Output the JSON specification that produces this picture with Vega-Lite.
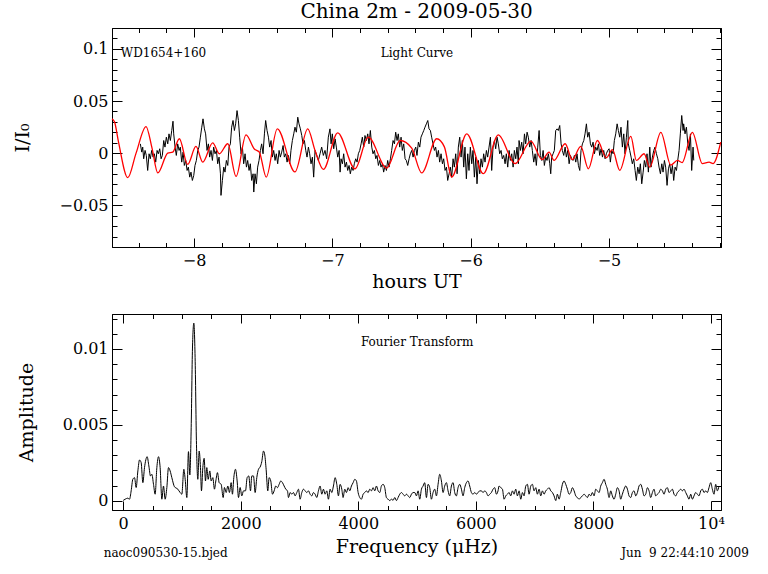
{
"$schema": "https://vega.github.io/schema/vega-lite/v6.json",
"background": "white",
"padding": {"left": 13, "top": 1, "right": 4, "bottom": 4},
"config": {
  "view": {"stroke": "black", "strokeWidth": 1},
  "axis": {"domainColor": "black", "domainWidth": 1, "tickColor": "black", "tickWidth": 1, "labelColor": "black", "titleColor": "black", "labelFont": "DejaVu Serif", "titleFont": "DejaVu Serif", "labelFontSize": 16, "titleFontSize": 19, "titleFontWeight": "normal", "grid": false, "labelOverlap": false, "labelBound": false, "labelFlush": false},
  "text": {"font": "DejaVu Serif", "fontSize": 12, "color": "black"},
  "title": {"font": "DejaVu Serif", "fontSize": 20, "fontWeight": "normal", "color": "black"}
},
"datasets": {
  "lc": [
{"h":-8.388,"f":0.0089},{"h":-8.378,"f":0.0010},{"h":-8.371,"f":0.0058},{"h":-8.364,"f":-0.0054},{"h":-8.354,"f":0.0026},{"h":-8.345,"f":-0.0022},{"h":-8.335,"f":-0.0166},{"h":-8.325,"f":-0.0006},{"h":-8.316,"f":-0.0054},{"h":-8.306,"f":0.0026},{"h":-8.296,"f":-0.0038},{"h":-8.287,"f":-0.0006},{"h":-8.277,"f":-0.0086},{"h":-8.267,"f":0.0026},{"h":-8.258,"f":-0.0006},{"h":-8.248,"f":0.0042},{"h":-8.238,"f":-0.0054},{"h":-8.229,"f":-0.0022},{"h":-8.219,"f":0.0121},{"h":-8.210,"f":0.0058},{"h":-8.200,"f":0.0153},{"h":-8.190,"f":0.0089},{"h":-8.181,"f":0.0185},{"h":-8.171,"f":0.0121},{"h":-8.161,"f":0.0217},{"h":-8.152,"f":0.0306},{"h":-8.147,"f":0.0185},{"h":-8.137,"f":0.0058},{"h":-8.128,"f":-0.0022},{"h":-8.118,"f":0.0089},{"h":-8.108,"f":0.0026},{"h":-8.099,"f":0.0058},{"h":-8.089,"f":-0.0086},{"h":-8.079,"f":0.0010},{"h":-8.070,"f":-0.0118},{"h":-8.060,"f":-0.0070},{"h":-8.050,"f":-0.0166},{"h":-8.041,"f":-0.0134},{"h":-8.031,"f":-0.0230},{"h":-8.022,"f":-0.0182},{"h":-8.012,"f":-0.0262},{"h":-8.002,"f":-0.0214},{"h":-7.993,"f":-0.0118},{"h":-7.983,"f":-0.0070},{"h":-7.973,"f":0.0026},{"h":-7.964,"f":0.0058},{"h":-7.954,"f":0.0153},{"h":-7.944,"f":0.0249},{"h":-7.935,"f":0.0329},{"h":-7.925,"f":0.0233},{"h":-7.916,"f":0.0185},{"h":-7.906,"f":0.0026},{"h":-7.896,"f":0.0089},{"h":-7.887,"f":-0.0038},{"h":-7.877,"f":0.0026},{"h":-7.867,"f":-0.0070},{"h":-7.858,"f":0.0058},{"h":-7.848,"f":-0.0006},{"h":-7.838,"f":0.0026},{"h":-7.829,"f":-0.0102},{"h":-7.819,"f":-0.0038},{"h":-7.809,"f":-0.0198},{"h":-7.805,"f":-0.0405},{"h":-7.795,"f":-0.0262},{"h":-7.785,"f":-0.0134},{"h":-7.776,"f":-0.0182},{"h":-7.766,"f":-0.0070},{"h":-7.756,"f":-0.0118},{"h":-7.747,"f":0.0058},{"h":-7.737,"f":0.0089},{"h":-7.728,"f":0.0249},{"h":-7.718,"f":0.0313},{"h":-7.708,"f":0.0217},{"h":-7.699,"f":0.0281},{"h":-7.689,"f":0.0408},{"h":-7.679,"f":0.0313},{"h":-7.670,"f":0.0153},{"h":-7.660,"f":-0.0006},{"h":-7.650,"f":0.0058},{"h":-7.641,"f":-0.0102},{"h":-7.631,"f":-0.0006},{"h":-7.621,"f":-0.0134},{"h":-7.612,"f":-0.0070},{"h":-7.602,"f":-0.0166},{"h":-7.593,"f":-0.0102},{"h":-7.583,"f":-0.0262},{"h":-7.573,"f":-0.0198},{"h":-7.568,"f":-0.0373},{"h":-7.559,"f":-0.0198},{"h":-7.549,"f":-0.0294},{"h":-7.540,"f":-0.0134},{"h":-7.530,"f":-0.0070},{"h":-7.520,"f":0.0026},{"h":-7.511,"f":0.0089},{"h":-7.501,"f":-0.0006},{"h":-7.491,"f":0.0185},{"h":-7.482,"f":0.0313},{"h":-7.472,"f":0.0217},{"h":-7.462,"f":0.0153},{"h":-7.453,"f":0.0058},{"h":-7.443,"f":0.0121},{"h":-7.434,"f":-0.0038},{"h":-7.424,"f":0.0026},{"h":-7.414,"f":-0.0070},{"h":-7.405,"f":-0.0006},{"h":-7.395,"f":-0.0102},{"h":-7.385,"f":0.0026},{"h":-7.376,"f":-0.0038},{"h":-7.366,"f":0.0010},{"h":-7.356,"f":0.0073},{"h":-7.347,"f":-0.0038},{"h":-7.337,"f":-0.0006},{"h":-7.327,"f":-0.0086},{"h":-7.318,"f":-0.0022},{"h":-7.308,"f":-0.0102},{"h":-7.299,"f":0.0026},{"h":-7.289,"f":0.0121},{"h":-7.279,"f":0.0185},{"h":-7.270,"f":0.0249},{"h":-7.260,"f":0.0201},{"h":-7.250,"f":0.0345},{"h":-7.241,"f":0.0281},{"h":-7.231,"f":0.0233},{"h":-7.221,"f":0.0169},{"h":-7.212,"f":0.0089},{"h":-7.202,"f":0.0121},{"h":-7.192,"f":0.0026},{"h":-7.183,"f":-0.0038},{"h":-7.173,"f":0.0058},{"h":-7.164,"f":-0.0006},{"h":-7.154,"f":-0.0102},{"h":-7.144,"f":-0.0038},{"h":-7.135,"f":-0.0230},
{"h":-7.125,"f":0.0026},{"h":-7.113,"f":-0.0022},{"h":-7.101,"f":-0.0070},{"h":-7.089,"f":-0.0006},{"h":-7.077,"f":0.0058},{"h":-7.065,"f":-0.0022},{"h":-7.053,"f":0.0026},{"h":-7.041,"f":-0.0054},{"h":-7.029,"f":0.0153},{"h":-7.017,"f":0.0233},{"h":-7.009,"f":0.0089},{"h":-7.000,"f":0.0185},{"h":-6.990,"f":0.0042},{"h":-6.980,"f":0.0137},{"h":-6.971,"f":0.0058},{"h":-6.961,"f":-0.0038},{"h":-6.951,"f":0.0026},{"h":-6.944,"f":-0.0182},{"h":-6.937,"f":-0.0054},{"h":-6.927,"f":-0.0102},{"h":-6.918,"f":-0.0006},{"h":-6.908,"f":-0.0134},{"h":-6.898,"f":-0.0086},{"h":-6.889,"f":-0.0166},{"h":-6.879,"f":-0.0118},{"h":-6.870,"f":-0.0198},{"h":-6.860,"f":-0.0134},{"h":-6.850,"f":-0.0166},{"h":-6.841,"f":-0.0102},{"h":-6.831,"f":-0.0054},{"h":-6.821,"f":-0.0086},{"h":-6.812,"f":-0.0006},{"h":-6.802,"f":0.0026},{"h":-6.792,"f":0.0089},{"h":-6.783,"f":0.0153},{"h":-6.773,"f":0.0058},{"h":-6.764,"f":0.0169},{"h":-6.754,"f":0.0121},{"h":-6.744,"f":0.0185},{"h":-6.735,"f":0.0089},{"h":-6.725,"f":0.0217},{"h":-6.715,"f":0.0058},{"h":-6.706,"f":-0.0006},{"h":-6.696,"f":0.0026},{"h":-6.686,"f":-0.0054},{"h":-6.677,"f":-0.0022},{"h":-6.667,"f":-0.0118},{"h":-6.657,"f":-0.0070},{"h":-6.648,"f":-0.0134},{"h":-6.638,"f":-0.0102},{"h":-6.629,"f":-0.0182},{"h":-6.619,"f":-0.0118},{"h":-6.609,"f":-0.0166},{"h":-6.600,"f":-0.0070},{"h":-6.590,"f":-0.0134},{"h":-6.580,"f":-0.0054},{"h":-6.571,"f":0.0026},{"h":-6.561,"f":0.0121},{"h":-6.551,"f":0.0089},{"h":-6.542,"f":0.0201},{"h":-6.532,"f":0.0121},{"h":-6.523,"f":0.0185},{"h":-6.513,"f":0.0058},{"h":-6.503,"f":0.0153},{"h":-6.494,"f":0.0026},{"h":-6.484,"f":0.0089},{"h":-6.474,"f":-0.0054},{"h":-6.465,"f":-0.0070},{"h":-6.455,"f":-0.0118},{"h":-6.445,"f":-0.0054},{"h":-6.436,"f":-0.0006},{"h":-6.426,"f":0.0026},{"h":-6.416,"f":-0.0038},{"h":-6.407,"f":0.0026},{"h":-6.397,"f":0.0058},{"h":-6.388,"f":-0.0022},{"h":-6.378,"f":0.0105},{"h":-6.368,"f":0.0058},{"h":-6.359,"f":0.0153},{"h":-6.349,"f":0.0185},{"h":-6.339,"f":0.0217},{"h":-6.330,"f":0.0249},{"h":-6.320,"f":0.0281},{"h":-6.310,"f":0.0313},{"h":-6.301,"f":0.0233},{"h":-6.291,"f":0.0217},{"h":-6.282,"f":0.0153},{"h":-6.272,"f":0.0089},{"h":-6.262,"f":0.0026},{"h":-6.253,"f":0.0058},{"h":-6.243,"f":-0.0038},{"h":-6.233,"f":0.0026},{"h":-6.224,"f":-0.0086},{"h":-6.214,"f":-0.0006},{"h":-6.204,"f":-0.0102},{"h":-6.195,"f":-0.0054},{"h":-6.185,"f":-0.0166},{"h":-6.175,"f":-0.0134},{"h":-6.166,"f":-0.0262},{"h":-6.156,"f":-0.0198},{"h":-6.147,"f":-0.0134},{"h":-6.137,"f":-0.0230},{"h":-6.127,"f":-0.0054},{"h":-6.118,"f":-0.0134},{"h":-6.108,"f":-0.0006},{"h":-6.098,"f":-0.0198},{"h":-6.089,"f":0.0058},{"h":-6.079,"f":0.0153},{"h":-6.069,"f":-0.0038},{"h":-6.060,"f":0.0121},{"h":-6.050,"f":-0.0134},{"h":-6.041,"f":0.0058},{"h":-6.031,"f":-0.0246},{"h":-6.021,"f":-0.0006},{"h":-6.012,"f":-0.0166},{"h":-6.002,"f":0.0058},{"h":-5.992,"f":-0.0102},{"h":-5.983,"f":0.0026},{"h":-5.973,"f":-0.0230},{"h":-5.963,"f":-0.0038},{"h":-5.954,"f":-0.0294},{"h":-5.944,"f":-0.0070},{"h":-5.934,"f":-0.0198},{"h":-5.925,"f":-0.0054},{"h":-5.915,"f":-0.0134},{"h":-5.906,"f":-0.0006},{"h":-5.896,"f":-0.0086},{"h":-5.886,"f":0.0026},{"h":-5.877,"f":-0.0038},{"h":-5.867,"f":0.0058},{"h":-5.857,"f":0.0153},{"h":-5.848,"f":-0.0166},{"h":-5.838,"f":0.0058},{"h":-5.828,"f":0.0121},{"h":-5.819,"f":0.0042},{"h":-5.809,"f":0.0153},{"h":-5.800,"f":0.0089},{"h":-5.790,"f":-0.0006},{"h":-5.780,"f":0.0026},{"h":-5.771,"f":-0.0054},{"h":-5.761,"f":-0.0022},{"h":-5.751,"f":-0.0102},{"h":-5.742,"f":-0.0006},{"h":-5.732,"f":-0.0134},{"h":-5.722,"f":0.0026},{"h":-5.713,"f":-0.0070},{"h":-5.703,"f":-0.0006},{"h":-5.693,"f":-0.0134},{"h":-5.684,"f":0.0026},{"h":-5.674,"f":-0.0054},{"h":-5.665,"f":0.0058},{"h":-5.655,"f":-0.0102},
{"h":-5.650,"f":0.0121},{"h":-5.640,"f":0.0026},{"h":-5.631,"f":0.0105},{"h":-5.621,"f":-0.0006},{"h":-5.611,"f":0.0185},{"h":-5.602,"f":0.0089},{"h":-5.592,"f":0.0201},{"h":-5.583,"f":0.0153},{"h":-5.573,"f":0.0058},{"h":-5.563,"f":0.0121},{"h":-5.554,"f":0.0026},{"h":-5.544,"f":-0.0086},{"h":-5.534,"f":-0.0006},{"h":-5.525,"f":-0.0118},{"h":-5.515,"f":0.0058},{"h":-5.505,"f":0.0217},{"h":-5.496,"f":-0.0022},{"h":-5.486,"f":-0.0070},{"h":-5.476,"f":0.0026},{"h":-5.467,"f":-0.0118},{"h":-5.457,"f":-0.0038},{"h":-5.448,"f":-0.0070},{"h":-5.438,"f":-0.0006},{"h":-5.428,"f":-0.0102},{"h":-5.421,"f":-0.0198},{"h":-5.414,"f":-0.0038},{"h":-5.404,"f":-0.0006},{"h":-5.395,"f":0.0026},{"h":-5.385,"f":0.0217},{"h":-5.375,"f":0.0233},{"h":-5.366,"f":0.0217},{"h":-5.356,"f":0.0265},{"h":-5.346,"f":0.0089},{"h":-5.337,"f":0.0026},{"h":-5.327,"f":-0.0022},{"h":-5.317,"f":0.0058},{"h":-5.308,"f":-0.0038},{"h":-5.298,"f":0.0026},{"h":-5.288,"f":-0.0102},{"h":-5.279,"f":-0.0022},{"h":-5.269,"f":-0.0054},{"h":-5.260,"f":-0.0070},{"h":-5.250,"f":-0.0022},{"h":-5.240,"f":-0.0086},{"h":-5.231,"f":-0.0006},{"h":-5.221,"f":-0.0118},{"h":-5.211,"f":-0.0166},{"h":-5.202,"f":0.0026},{"h":-5.192,"f":0.0089},{"h":-5.182,"f":0.0121},{"h":-5.173,"f":0.0185},{"h":-5.163,"f":0.0281},{"h":-5.154,"f":0.0153},{"h":-5.144,"f":0.0201},{"h":-5.134,"f":0.0089},{"h":-5.125,"f":0.0058},{"h":-5.115,"f":0.0105},{"h":-5.105,"f":-0.0006},{"h":-5.096,"f":0.0058},{"h":-5.086,"f":0.0026},{"h":-5.076,"f":0.0089},{"h":-5.067,"f":-0.0022},{"h":-5.057,"f":0.0042},{"h":-5.047,"f":-0.0038},{"h":-5.038,"f":0.0026},{"h":-5.028,"f":-0.0054},{"h":-5.019,"f":-0.0006},{"h":-5.009,"f":0.0026},{"h":-4.999,"f":0.0042},{"h":-4.990,"f":-0.0086},{"h":-4.980,"f":0.0026},{"h":-4.970,"f":-0.0006},{"h":-4.961,"f":0.0121},{"h":-4.951,"f":0.0185},{"h":-4.941,"f":0.0281},{"h":-4.932,"f":0.0217},{"h":-4.922,"f":0.0153},{"h":-4.913,"f":0.0249},{"h":-4.903,"f":0.0058},{"h":-4.893,"f":0.0185},{"h":-4.884,"f":-0.0006},{"h":-4.874,"f":0.0153},{"h":-4.864,"f":0.0313},{"h":-4.860,"f":0.0089},{"h":-4.850,"f":0.0026},{"h":-4.840,"f":-0.0038},{"h":-4.831,"f":-0.0102},{"h":-4.821,"f":-0.0054},{"h":-4.811,"f":-0.0166},{"h":-4.802,"f":-0.0262},{"h":-4.792,"f":-0.0134},{"h":-4.782,"f":-0.0198},{"h":-4.773,"f":-0.0102},{"h":-4.763,"f":-0.0294},{"h":-4.753,"f":-0.0182},{"h":-4.744,"f":-0.0070},{"h":-4.734,"f":-0.0134},{"h":-4.725,"f":-0.0006},{"h":-4.715,"f":-0.0182},{"h":-4.705,"f":0.0058},{"h":-4.696,"f":-0.0134},{"h":-4.686,"f":-0.0038},{"h":-4.676,"f":0.0026},{"h":-4.667,"f":0.0058},{"h":-4.657,"f":-0.0006},{"h":-4.647,"f":-0.0054},{"h":-4.638,"f":-0.0134},{"h":-4.628,"f":-0.0198},{"h":-4.618,"f":-0.0102},{"h":-4.609,"f":-0.0182},{"h":-4.599,"f":-0.0070},{"h":-4.590,"f":-0.0134},{"h":-4.580,"f":-0.0309},{"h":-4.570,"f":-0.0150},{"h":-4.561,"f":-0.0102},{"h":-4.551,"f":-0.0198},{"h":-4.541,"f":-0.0118},{"h":-4.532,"f":-0.0262},{"h":-4.522,"f":-0.0134},{"h":-4.512,"f":-0.0166},{"h":-4.503,"f":-0.0070},{"h":-4.493,"f":0.0026},{"h":-4.484,"f":0.0185},{"h":-4.474,"f":0.0361},{"h":-4.464,"f":0.0217},{"h":-4.460,"f":0.0281},{"h":-4.450,"f":0.0185},{"h":-4.440,"f":0.0249},{"h":-4.430,"f":0.0089},{"h":-4.421,"f":0.0026},{"h":-4.411,"f":0.0185},{"h":-4.402,"f":-0.0166},{"h":-4.392,"f":0.0058},{"h":-4.387,"f":-0.0070}
  ],
  "fit": [
{"h":-8.593,"f":0.033},{"h":-8.575,"f":0.030},{"h":-8.545,"f":0.010},{"h":-8.479,"f":-0.0235},{"h":-8.419,"f":0.0},{"h":-8.347,"f":0.0255},{"h":-8.304,"f":0.005},{"h":-8.262,"f":-0.019},{"h":-8.190,"f":0.0},{"h":-8.154,"f":0.001},{"h":-8.106,"f":0.0138},{"h":-8.046,"f":-0.0108},{"h":-7.986,"f":0.0064},{"h":-7.937,"f":-0.0086},{"h":-7.865,"f":0.0099},{"h":-7.817,"f":-0.0006},{"h":-7.756,"f":0.009},{"h":-7.696,"f":-0.0223},{"h":-7.624,"f":0.0176},{"h":-7.564,"f":0.004},{"h":-7.528,"f":0.001},{"h":-7.478,"f":-0.023},{"h":-7.398,"f":0.0233},{"h":-7.27,"f":-0.018},{"h":-7.178,"f":0.0233},{"h":-7.125,"f":0.0026},{"h":-7.065,"f":-0.0156},{"h":-6.961,"f":0.0195},{"h":-6.836,"f":-0.015},{"h":-6.740,"f":0.0153},{"h":-6.607,"f":-0.0143},{"h":-6.510,"f":0.0121},{"h":-6.426,"f":0.0048},{"h":-6.354,"f":-0.019},{"h":-6.245,"f":0.0138},{"h":-6.19,"f":0.006},{"h":-6.137,"f":-0.023},{"h":-6.028,"f":0.0185},{"h":-5.908,"f":-0.0197},{"h":-5.800,"f":0.0176},{"h":-5.679,"f":-0.0101},{"h":-5.565,"f":0.0115},{"h":-5.482,"f":-0.0063},{"h":-5.433,"f":0.001},{"h":-5.397,"f":-0.007},{"h":-5.317,"f":0.009},{"h":-5.265,"f":-0.0063},{"h":-5.204,"f":0.0064},{"h":-5.149,"f":-0.015},{"h":-5.084,"f":0.0121},{"h":-5.019,"f":-0.0044},{"h":-4.975,"f":0.0033},{"h":-4.922,"f":-0.0165},{"h":-4.842,"f":0.016},{"h":-4.802,"f":-0.007},{"h":-4.746,"f":-0.0006},{"h":-4.705,"f":-0.0134},{"h":-4.625,"f":0.02},{"h":-4.553,"f":-0.0115},{"h":-4.505,"f":-0.007},{"h":-4.471,"f":-0.009},{"h":-4.397,"f":0.02},{"h":-4.325,"f":-0.0101},{"h":-4.276,"f":-0.0086},{"h":-4.247,"f":-0.010},{"h":-4.192,"f":0.0105}
  ],
  "topnotes": [
{"h":-8.2205,"f":0.0965,"label":"WD1654+160"},{"h":-6.388,"f":0.0965,"label":"Light Curve"}
  ],
  "ft": [
{"nu":0,"amp":0.00003},{"nu":34,"amp":0.00011},{"nu":79,"amp":0.00018},{"nu":108,"amp":0.00011},{"nu":136,"amp":0.00066},{"nu":164,"amp":0.00142},{"nu":193,"amp":0.00153},{"nu":221,"amp":0.00088},{"nu":250,"amp":0.00197},{"nu":278,"amp":0.00269},{"nu":306,"amp":0.00252},{"nu":335,"amp":0.00120},{"nu":363,"amp":0.00219},{"nu":408,"amp":0.00291},{"nu":437,"amp":0.00230},{"nu":465,"amp":0.00164},{"nu":488,"amp":0.00175},{"nu":516,"amp":0.00109},{"nu":544,"amp":0.00044},{"nu":573,"amp":0.00219},{"nu":601,"amp":0.00291},{"nu":629,"amp":0.00219},{"nu":658,"amp":0.00011},{"nu":686,"amp":0.00098},{"nu":714,"amp":0.00011},{"nu":743,"amp":0.00088},{"nu":771,"amp":0.00219},{"nu":799,"amp":0.00197},{"nu":828,"amp":0.00153},{"nu":873,"amp":0.00093},{"nu":930,"amp":0.00077},{"nu":969,"amp":0.00055},{"nu":998,"amp":0.00044},{"nu":1032,"amp":0.00208},{"nu":1055,"amp":0.00142},{"nu":1083,"amp":0.00022},{"nu":1111,"amp":0.00324},{"nu":1134,"amp":0.00171},{"nu":1157,"amp":0.00481},{"nu":1179,"amp":0.01006},{"nu":1202,"amp":0.01170},{"nu":1225,"amp":0.00919},{"nu":1247,"amp":0.00372},{"nu":1270,"amp":0.00142},{"nu":1293,"amp":0.00328},{"nu":1315,"amp":0.00219},{"nu":1332,"amp":0.00066},{"nu":1355,"amp":0.00219},{"nu":1378,"amp":0.00280},{"nu":1400,"amp":0.00131},{"nu":1423,"amp":0.00219},{"nu":1446,"amp":0.00142},{"nu":1474,"amp":0.00197},{"nu":1497,"amp":0.00131},{"nu":1525,"amp":0.00153},{"nu":1553,"amp":0.00077},{"nu":1576,"amp":0.00131},{"nu":1604,"amp":0.00186},{"nu":1633,"amp":0.00120},{"nu":1667,"amp":0.00109},{"nu":1701,"amp":0.00022},{"nu":1723,"amp":0.00088},{"nu":1752,"amp":0.00055},{"nu":1780,"amp":0.00098},{"nu":1808,"amp":0.00055},{"nu":1837,"amp":0.00120},{"nu":1859,"amp":0.00044},{"nu":1882,"amp":0.00153},{"nu":1910,"amp":0.00208},{"nu":1939,"amp":0.00131},{"nu":1962,"amp":0.00022},{"nu":1990,"amp":0.00088},{"nu":2018,"amp":0.00033},{"nu":2047,"amp":0.00066},{"nu":2081,"amp":0.00066},{"nu":2109,"amp":0.00153},{"nu":2137,"amp":0.00164},{"nu":2166,"amp":0.00066},{"nu":2188,"amp":0.00164},{"nu":2217,"amp":0.00164},{"nu":2245,"amp":0.00055},{"nu":2273,"amp":0.00153},{"nu":2302,"amp":0.00208},{"nu":2330,"amp":0.00223},{"nu":2358,"amp":0.00258},{"nu":2387,"amp":0.00328},{"nu":2409,"amp":0.00302},{"nu":2432,"amp":0.00208},{"nu":2460,"amp":0.00066},
{"nu":2483,"amp":0.00153},{"nu":2511,"amp":0.00131},{"nu":2540,"amp":0.00044},{"nu":2568,"amp":0.00066},{"nu":2596,"amp":0.00098},{"nu":2625,"amp":0.00087},{"nu":2653,"amp":0.00109},{"nu":2681,"amp":0.00131},{"nu":2710,"amp":0.00120},{"nu":2738,"amp":0.00098},{"nu":2766,"amp":0.00077},{"nu":2795,"amp":0.00066},{"nu":2812,"amp":0.00022},{"nu":2840,"amp":0.00055},{"nu":2869,"amp":0.00044},{"nu":2897,"amp":0.00055},{"nu":2925,"amp":0.00033},{"nu":2954,"amp":0.00055},{"nu":2982,"amp":0.00077},{"nu":3010,"amp":0.00011},{"nu":3039,"amp":0.00055},{"nu":3067,"amp":0.00077},{"nu":3095,"amp":0.00066},{"nu":3124,"amp":0.00055},{"nu":3152,"amp":0.00066},{"nu":3180,"amp":0.00044},{"nu":3209,"amp":0.00033},{"nu":3237,"amp":0.00055},{"nu":3265,"amp":0.00044},{"nu":3294,"amp":0.00022},{"nu":3322,"amp":0.00066},{"nu":3350,"amp":0.00098},{"nu":3379,"amp":0.00044},{"nu":3407,"amp":0.00077},{"nu":3435,"amp":0.00044},{"nu":3464,"amp":0.00066},{"nu":3492,"amp":0.00011},{"nu":3520,"amp":0.00077},{"nu":3549,"amp":0.00055},{"nu":3577,"amp":0.00098},{"nu":3605,"amp":0.00153},{"nu":3634,"amp":0.00109},{"nu":3662,"amp":0.00033},{"nu":3690,"amp":0.00109},{"nu":3719,"amp":0.00077},{"nu":3741,"amp":0.00022},{"nu":3770,"amp":0.00077},{"nu":3798,"amp":0.00055},{"nu":3827,"amp":0.00087},{"nu":3855,"amp":0.00066},{"nu":3883,"amp":0.00098},{"nu":3912,"amp":0.00120},{"nu":3940,"amp":0.00142},{"nu":3968,"amp":0.00131},{"nu":3997,"amp":0.00055},{"nu":4025,"amp":0.00022},{"nu":4053,"amp":0.00011},{"nu":4082,"amp":0.00044},{"nu":4110,"amp":0.00055},{"nu":4138,"amp":0.00066},{"nu":4167,"amp":0.00055},{"nu":4195,"amp":0.00077},{"nu":4223,"amp":0.00066},{"nu":4252,"amp":0.00087},{"nu":4280,"amp":0.00066},{"nu":4308,"amp":0.00098},{"nu":4337,"amp":0.00066},{"nu":4365,"amp":0.00055},{"nu":4393,"amp":0.00098},{"nu":4422,"amp":0.00109},{"nu":4450,"amp":0.00087},{"nu":4478,"amp":0.00022},{"nu":4507,"amp":0.00011},{"nu":4535,"amp":0.00002},{"nu":4564,"amp":0.00011},{"nu":4592,"amp":0.00004},{"nu":4620,"amp":0.00022},{"nu":4649,"amp":0.00002},{"nu":4677,"amp":0.00022},{"nu":4705,"amp":0.00044},{"nu":4734,"amp":0.00055},{"nu":4762,"amp":0.00044},{"nu":4790,"amp":0.00033},{"nu":4819,"amp":0.00044},{"nu":4847,"amp":0.00033},{"nu":4875,"amp":0.00022},{"nu":4904,"amp":0.00044},{"nu":4932,"amp":0.00055},{"nu":4960,"amp":0.00055},{"nu":4989,"amp":0.00033},{"nu":5017,"amp":0.00066},{"nu":5045,"amp":0.00011},{"nu":5074,"amp":0.00077},{"nu":5102,"amp":0.00098},{"nu":5130,"amp":0.00120},{"nu":5159,"amp":0.00022},{"nu":5187,"amp":0.00109},{"nu":5215,"amp":0.00087},{"nu":5244,"amp":0.00011},{"nu":5272,"amp":0.00055},{"nu":5300,"amp":0.00077},{"nu":5329,"amp":0.00033},{"nu":5357,"amp":0.00109},{"nu":5385,"amp":0.00175},{"nu":5414,"amp":0.00131},{"nu":5442,"amp":0.00055},{"nu":5470,"amp":0.00098},{"nu":5499,"amp":0.00120},{"nu":5527,"amp":0.00066},{"nu":5555,"amp":0.00033},{"nu":5584,"amp":0.00098},{"nu":5612,"amp":0.00120},{"nu":5640,"amp":0.00055},{"nu":5669,"amp":0.00033},{"nu":5697,"amp":0.00087},{"nu":5725,"amp":0.00109},{"nu":5754,"amp":0.00077},{"nu":5782,"amp":0.00033},{"nu":5810,"amp":0.00087},{"nu":5839,"amp":0.00120},{"nu":5867,"amp":0.00131},{"nu":5895,"amp":0.00098},{"nu":5924,"amp":0.00055},{"nu":5952,"amp":0.00044},{"nu":5981,"amp":0.00055},{"nu":6009,"amp":0.00044},{"nu":6037,"amp":0.00055},{"nu":6066,"amp":0.00066},{"nu":6094,"amp":0.00066},{"nu":6122,"amp":0.00055},{"nu":6151,"amp":0.00066},{"nu":6179,"amp":0.00055},{"nu":6207,"amp":0.00033},{"nu":6236,"amp":0.00044},{"nu":6264,"amp":0.00055},{"nu":6292,"amp":0.00077},{"nu":6321,"amp":0.00087},{"nu":6349,"amp":0.00044},{"nu":6377,"amp":0.00066},{"nu":6394,"amp":0.00098},
{"nu":6423,"amp":0.00087},{"nu":6452,"amp":0.00077},{"nu":6480,"amp":0.00011},{"nu":6508,"amp":0.00033},{"nu":6537,"amp":0.00044},{"nu":6565,"amp":0.00055},{"nu":6593,"amp":0.00033},{"nu":6622,"amp":0.00066},{"nu":6650,"amp":0.00044},{"nu":6678,"amp":0.00077},{"nu":6707,"amp":0.00033},{"nu":6735,"amp":0.00066},{"nu":6764,"amp":0.00011},{"nu":6792,"amp":0.00055},{"nu":6820,"amp":0.00033},{"nu":6849,"amp":0.00098},{"nu":6877,"amp":0.00109},{"nu":6905,"amp":0.00044},{"nu":6934,"amp":0.00098},{"nu":6962,"amp":0.00109},{"nu":6990,"amp":0.00066},{"nu":7019,"amp":0.00087},{"nu":7047,"amp":0.00044},{"nu":7075,"amp":0.00077},{"nu":7104,"amp":0.00033},{"nu":7132,"amp":0.00066},{"nu":7160,"amp":0.00044},{"nu":7189,"amp":0.00066},{"nu":7217,"amp":0.00077},{"nu":7245,"amp":0.00087},{"nu":7274,"amp":0.00066},{"nu":7302,"amp":0.00055},{"nu":7330,"amp":0.00033},{"nu":7359,"amp":0.00002},{"nu":7387,"amp":0.00044},{"nu":7415,"amp":0.00011},{"nu":7444,"amp":0.00055},{"nu":7472,"amp":0.00109},{"nu":7500,"amp":0.00131},{"nu":7529,"amp":0.00109},{"nu":7557,"amp":0.00077},{"nu":7585,"amp":0.00044},{"nu":7614,"amp":0.00055},{"nu":7642,"amp":0.00087},{"nu":7671,"amp":0.00066},{"nu":7699,"amp":0.00033},{"nu":7727,"amp":0.00022},{"nu":7756,"amp":0.00011},{"nu":7784,"amp":0.00022},{"nu":7812,"amp":0.00033},{"nu":7841,"amp":0.00044},{"nu":7869,"amp":0.00033},{"nu":7897,"amp":0.00022},{"nu":7926,"amp":0.00044},{"nu":7954,"amp":0.00033},{"nu":7982,"amp":0.00055},{"nu":8011,"amp":0.00033},{"nu":8039,"amp":0.00077},{"nu":8067,"amp":0.00066},{"nu":8096,"amp":0.00055},{"nu":8124,"amp":0.00098},{"nu":8152,"amp":0.00120},{"nu":8181,"amp":0.00142},{"nu":8209,"amp":0.00109},{"nu":8237,"amp":0.00077},{"nu":8266,"amp":0.00022},{"nu":8294,"amp":0.00066},{"nu":8322,"amp":0.00033},{"nu":8351,"amp":0.00011},{"nu":8379,"amp":0.00044},{"nu":8407,"amp":0.00087},{"nu":8436,"amp":0.00066},{"nu":8464,"amp":0.00011},{"nu":8492,"amp":0.00044},{"nu":8521,"amp":0.00077},{"nu":8549,"amp":0.00098},{"nu":8578,"amp":0.00077},{"nu":8606,"amp":0.00033},{"nu":8634,"amp":0.00022},{"nu":8663,"amp":0.00055},{"nu":8691,"amp":0.00066},{"nu":8719,"amp":0.00033},{"nu":8748,"amp":0.00055},{"nu":8776,"amp":0.00098},{"nu":8804,"amp":0.00109},{"nu":8833,"amp":0.00077},{"nu":8861,"amp":0.00033},{"nu":8889,"amp":0.00044},{"nu":8918,"amp":0.00087},{"nu":8946,"amp":0.00066},{"nu":8974,"amp":0.00022},{"nu":9003,"amp":0.00055},{"nu":9031,"amp":0.00077},{"nu":9059,"amp":0.00033},{"nu":9088,"amp":0.00044},{"nu":9116,"amp":0.00055},{"nu":9145,"amp":0.00077},{"nu":9173,"amp":0.00066},{"nu":9201,"amp":0.00044},{"nu":9230,"amp":0.00077},{"nu":9258,"amp":0.00087},{"nu":9286,"amp":0.00055},{"nu":9315,"amp":0.00066},{"nu":9343,"amp":0.00077},{"nu":9371,"amp":0.00044},{"nu":9400,"amp":0.00033},{"nu":9428,"amp":0.00055},{"nu":9456,"amp":0.00066},{"nu":9485,"amp":0.00077},{"nu":9513,"amp":0.00066},{"nu":9541,"amp":0.00077},{"nu":9570,"amp":0.00055},{"nu":9598,"amp":0.00033},{"nu":9626,"amp":0.00011},{"nu":9655,"amp":0.00044},{"nu":9683,"amp":0.00011},{"nu":9711,"amp":0.00033},{"nu":9740,"amp":0.00055},{"nu":9768,"amp":0.00044},{"nu":9796,"amp":0.00033},{"nu":9825,"amp":0.00066},{"nu":9853,"amp":0.00077},{"nu":9881,"amp":0.00055},{"nu":9910,"amp":0.00066},{"nu":9938,"amp":0.00055},{"nu":9966,"amp":0.00087},{"nu":9995,"amp":0.00120},{"nu":10023,"amp":0.00077},{"nu":10051,"amp":0.00044},{"nu":10080,"amp":0.00109},{"nu":10108,"amp":0.00066},{"nu":10136,"amp":0.00098}
  ],
  "botnotes": [
{"nu":5000,"amp":0.01043,"label":"Fourier Transform"},{"nu":723,"amp":-0.00341,"label":"naoc090530-15.bjed"},{"nu":9558,"amp":-0.00341,"label":"Jun\u00a0\u00a09 22:44:10 2009"}
  ]
},
"vconcat": [
{
  "width": 609, "height": 219,
  "title": {"text": "China 2m - 2009-05-30", "frame": "group", "anchor": "middle", "offset": 6},
  "layer": [
    {"data": {"name": "lc"}, "mark": {"type": "line", "color": "black", "strokeWidth": 1},
     "encoding": {
      "x": {"field": "h", "type": "quantitative", "scale": {"domain": [-8.593, -4.19], "nice": false, "zero": false},
            "axis": {"orient": "bottom", "title": "hours UT", "values": [-8.4,-8.2,-8,-7.8,-7.6,-7.4,-7.2,-7,-6.8,-6.6,-6.4,-6.2,-6,-5.8,-5.6,-5.4,-5.2,-5,-4.8,-4.6,-4.4,-4.2],
                     "labelExpr": "abs(datum.value - round(datum.value)) < 0.001 ? format(datum.value, 'd') : ''",
                     "tickSize": {"condition": {"test": "abs(datum.value - round(datum.value)) < 0.001", "value": -9}, "value": -4.5},
                     "labelPadding": 14, "titlePadding": 0}},
      "y": {"field": "f", "type": "quantitative", "scale": {"domain": [-0.09, 0.12], "nice": false, "zero": false},
            "axis": {"orient": "left", "title": "I/I₀", "values": [-0.08,-0.07,-0.06,-0.05,-0.04,-0.03,-0.02,-0.01,0,0.01,0.02,0.03,0.04,0.05,0.06,0.07,0.08,0.09,0.1,0.11],
                     "labelExpr": "abs(datum.value*20 - round(datum.value*20)) < 0.001 ? format(datum.value, '~g') : ''",
                     "tickSize": {"condition": {"test": "abs(datum.value*20 - round(datum.value*20)) < 0.001", "value": -10}, "value": -5},
                     "labelPadding": 14, "titlePadding": 26}}
     }},
    {"data": {"name": "fit"}, "mark": {"type": "line", "color": "#ff0000", "strokeWidth": 1.3, "interpolate": "monotone"},
     "encoding": {
      "x": {"field": "h", "type": "quantitative",
            "axis": {"orient": "top", "title": null, "labels": false, "values": [-8.4,-8.2,-8,-7.8,-7.6,-7.4,-7.2,-7,-6.8,-6.6,-6.4,-6.2,-6,-5.8,-5.6,-5.4,-5.2,-5,-4.8,-4.6,-4.4,-4.2],
                     "tickSize": {"condition": {"test": "abs(datum.value - round(datum.value)) < 0.001", "value": -9}, "value": -4.5}}},
      "y": {"field": "f", "type": "quantitative",
            "axis": {"orient": "right", "title": null, "labels": false, "values": [-0.08,-0.07,-0.06,-0.05,-0.04,-0.03,-0.02,-0.01,0,0.01,0.02,0.03,0.04,0.05,0.06,0.07,0.08,0.09,0.1,0.11],
                     "tickSize": {"condition": {"test": "abs(datum.value*20 - round(datum.value*20)) < 0.001", "value": -10}, "value": -5}}}
     }},
    {"data": {"name": "topnotes"}, "mark": {"type": "text", "align": "center", "baseline": "middle"},
     "encoding": {
      "x": {"field": "h", "type": "quantitative", "axis": null},
      "y": {"field": "f", "type": "quantitative", "axis": null},
      "text": {"field": "label"}
     }}
  ],
  "resolve": {"axis": {"x": "independent", "y": "independent"}}
},
{
  "width": 609, "height": 196,
  "layer": [
    {"data": {"name": "ft"}, "mark": {"type": "line", "color": "black", "strokeWidth": 1, "interpolate": "monotone"},
     "encoding": {
      "x": {"field": "nu", "type": "quantitative", "scale": {"domain": [-190, 10170], "nice": false, "zero": false},
            "axis": {"orient": "bottom", "title": "Frequency (μHz)", "values": [0,500,1000,1500,2000,2500,3000,3500,4000,4500,5000,5500,6000,6500,7000,7500,8000,8500,9000,9500,10000],
                     "labelExpr": "datum.value % 2000 == 0 ? (datum.value == 10000 ? '10⁴' : format(datum.value, 'd')) : ''",
                     "tickSize": {"condition": {"test": "datum.value % 2000 == 0", "value": -9}, "value": -4.5},
                     "labelPadding": 14, "titlePadding": 2}},
      "y": {"field": "amp", "type": "quantitative", "scale": {"domain": [-0.0006, 0.0123], "nice": false, "zero": false},
            "axis": {"orient": "left", "title": "Amplitude", "values": [0,0.001,0.002,0.003,0.004,0.005,0.006,0.007,0.008,0.009,0.01,0.011,0.012],
                     "labelExpr": "abs(datum.value*200 - round(datum.value*200)) < 0.001 ? format(datum.value, '~g') : ''",
                     "tickSize": {"condition": {"test": "abs(datum.value*200 - round(datum.value*200)) < 0.001", "value": -10}, "value": -5},
                     "labelPadding": 14, "titlePadding": 26}}
     }},
    {"data": {"name": "botnotes"}, "mark": {"type": "text", "align": "center", "baseline": "middle"},
     "encoding": {
      "x": {"field": "nu", "type": "quantitative",
            "axis": {"orient": "top", "title": null, "labels": false, "values": [0,500,1000,1500,2000,2500,3000,3500,4000,4500,5000,5500,6000,6500,7000,7500,8000,8500,9000,9500,10000],
                     "tickSize": {"condition": {"test": "datum.value % 2000 == 0", "value": -9}, "value": -4.5}}},
      "y": {"field": "amp", "type": "quantitative",
            "axis": {"orient": "right", "title": null, "labels": false, "values": [0,0.001,0.002,0.003,0.004,0.005,0.006,0.007,0.008,0.009,0.01,0.011,0.012],
                     "tickSize": {"condition": {"test": "abs(datum.value*200 - round(datum.value*200)) < 0.001", "value": -10}, "value": -5}}},
      "text": {"field": "label"}
     }}
  ],
  "resolve": {"axis": {"x": "independent", "y": "independent"}}
}
],
"spacing": 18
}
